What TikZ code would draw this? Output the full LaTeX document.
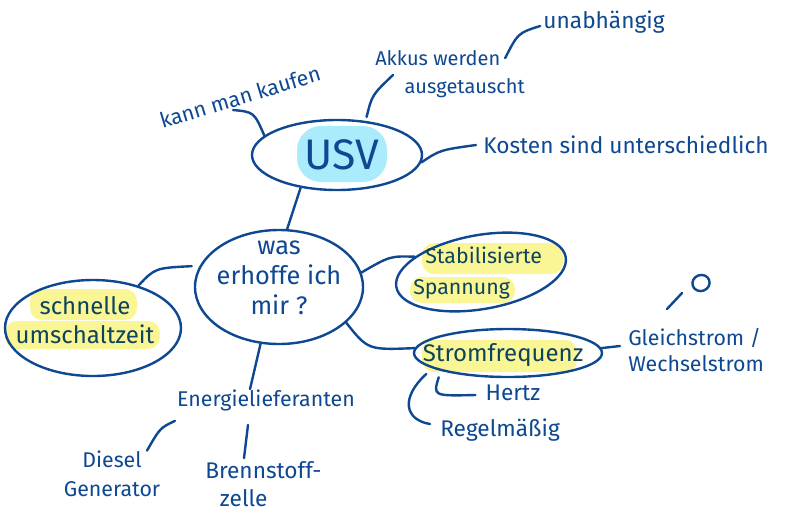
\documentclass[tikz,border=0pt]{standalone}
\usepackage{fontspec}
\setmainfont{Fira Sans}
\usetikzlibrary{shapes.geometric}
\definecolor{ink}{RGB}{14,72,145}
\definecolor{inkd}{RGB}{12,68,92}
\definecolor{hl}{RGB}{250,246,150}
\definecolor{cy}{RGB}{170,236,252}
\begin{document}
\begin{tikzpicture}[x=0.75pt,y=-0.75pt,
  line/.style={draw=ink,line width=1.8pt,line cap=round},
  bub/.style={ellipse,draw=ink,line width=1.8pt,inner sep=0pt},
  lbl/.style={text=ink,inner sep=0pt,align=center},
  hlbl/.style={text=inkd,inner sep=0pt,align=center},
  hlbox/.style={fill=hl,rounded corners=9pt}]
\useasboundingbox (0,0) rectangle (787,525);
\fill[white] (0,0) rectangle (787,525);

% highlights
\fill[cy,rounded corners=18pt] (297,126) rectangle (387,182);
\fill[hlbox] (30,289) rectangle (137,320);
\fill[hlbox] (5,321) rectangle (160,349);
\fill[hlbox] (422,243) rectangle (563,274);
\fill[hlbox] (410,277) rectangle (515,303);
\fill[hlbox] (422,340) rectangle (577,372);

% bubbles
\node[bub,minimum width=127.5pt,minimum height=52.5pt] (usvE) at (337,155) {};
\node[lbl,font=\fontsize{32}{36}\selectfont] (usv) at (342,155) {USV};
\node[bub,minimum width=126pt,minimum height=85.5pt] (wasE) at (279,287) {};
\node[lbl,font=\fontsize{19}{22.5}\selectfont] (was) at (279,278) {was\\erhoffe ich\\mir ?};
\node[bub,minimum width=132pt,minimum height=72pt] (schE) at (93,328) {};
\node[hlbl,font=\fontsize{18}{22}\selectfont] (sch) at (85,320) {schnelle\\umschaltzeit};
\node[bub,minimum width=129pt,minimum height=55.5pt,rotate=10] (stabE) at (481,272) {};
\node[hlbl,align=left,anchor=west,font=\fontsize{16}{23}\selectfont] (stab) at (413,273) {\hspace*{9pt}Stabilisierte\\Spannung};
\node[bub,minimum width=141pt,minimum height=36pt] (stromE) at (508,353) {};
\node[hlbl,font=\fontsize{18}{22}\selectfont] (strom) at (503,355) {Stromfrequenz};

% labels
\node[lbl,rotate=17,font=\fontsize{16}{19}\selectfont] (kauf) at (240,97) {kann man kaufen};
\node[lbl,align=left,anchor=west,font=\fontsize{15}{21}\selectfont] (akkus) at (375,74) {Akkus werden\\\hspace*{22pt}ausgetauscht};
\node[lbl,font=\fontsize{17}{20}\selectfont] (unab) at (604,22) {unabhängig};
\node[lbl,anchor=west,font=\fontsize{17}{20}\selectfont] (kosten) at (483,145) {Kosten sind unterschiedlich};
\node[lbl,align=left,anchor=west,font=\fontsize{16}{19}\selectfont] (gleich) at (628,350) {Gleichstrom /\\Wechselstrom};
\node[lbl,font=\fontsize{17}{20}\selectfont] (hertz) at (513,393) {Hertz};
\node[lbl,anchor=west,font=\fontsize{17}{20}\selectfont] (regel) at (440,430) {Regelmäßig};
\node[lbl,font=\fontsize{16}{19}\selectfont] (energie) at (266,400) {Energielieferanten};
\node[lbl,font=\fontsize{16}{22}\selectfont] (diesel) at (112,474) {Diesel\\Generator};
\node[lbl,align=left,anchor=west,font=\fontsize{17}{21}\selectfont] (brenn) at (205,484) {Brennstoff-\\\hspace*{11pt}zelle};

% doodle
\node[ellipse,draw=ink,line width=1.8pt,minimum width=13pt,minimum height=12pt,inner sep=0pt,rotate=20] (ring) at (701,283) {};
\draw[line] ([shift={(-34,26)}]ring.center) -- ([shift={(-19,10)}]ring.center);

% connectors
\draw[line] ([shift={(-7,13)}]kauf.center) .. controls (254,112) .. (usvE.165);
\draw[line,shorten >=3pt] ([shift={(18,1)}]akkus.west) .. controls (372,95) .. (usvE.50);
\draw[line] ([shift={(-20,8)}]akkus.north east) .. controls (518,33) .. ([shift={(-3,4)}]unab.west);
\draw[line] (usvE.-5) .. controls (440,150) .. ([shift={(-7,0)}]kosten.west);
\draw[line] (usvE.222) -- (wasE.82);
\draw[line,shorten <=6pt] (wasE.165) .. controls (155,268) .. (schE.43);
\draw[line] (wasE.10) .. controls (390,256) .. (stabE.157);
\draw[line] (wasE.-28) .. controls (368,350) .. (stromE.177);
\draw[line] (stromE.3) -- ([shift={(-8,-4)}]gleich.west);
\draw[line] ([shift={(0,7)}]stromE.194) .. controls (433,396) .. ([shift={(-10,2)}]hertz.west);
\draw[line] ([shift={(0,8)}]stromE.189) .. controls (400,398) and (405,420) .. ([shift={(-10,-6)}]regel.west);
\draw[line] (wasE.252) -- ([shift={(-16,0)}]energie.north);
\draw[line] ([shift={(-2,10)}]energie.south west) .. controls (160,428) .. ([shift={(35,0)}]diesel.north);
\draw[line] ([shift={(-18,14)}]energie.south) -- ([shift={(39,-3)}]brenn.north west);
\end{tikzpicture}
\end{document}
